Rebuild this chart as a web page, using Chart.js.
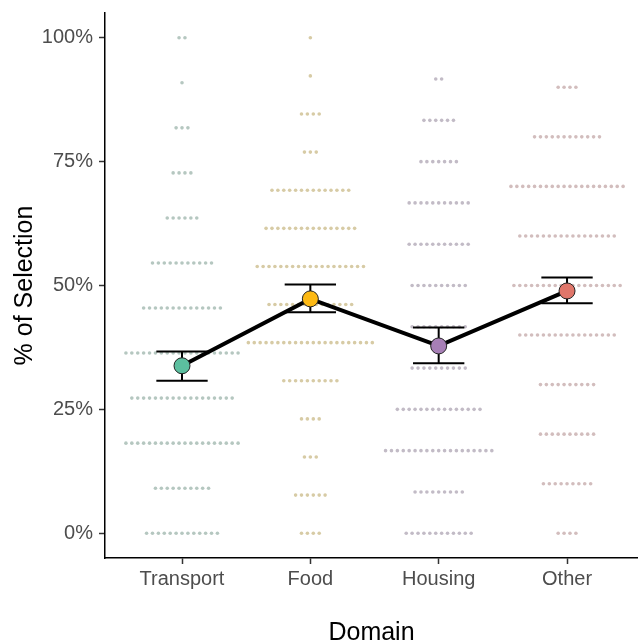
<!DOCTYPE html>
<html>
<head>
<meta charset="utf-8">
<script src="https://cdn.jsdelivr.net/npm/chart.js@4"></script>
<style>
  html, body { margin: 0; padding: 0; background: #fff; overflow: hidden; }
  #chart { display: block; }
</style>
</head>
<body>
<canvas id="chart" width="638" height="643"></canvas>
<script>
// categories and per-respondent counts at each response level (level k of N, k = 0..N)
const domains = ['Transport', 'Food', 'Housing', 'Other'];
const transportCounts = [13, 10, 20, 18, 20, 14, 11, 6, 4, 3, 1, 2];
const foodCounts      = [4, 6, 3, 4, 10, 22, 15, 19, 16, 14, 3, 4, 1, 1];
const housingCounts   = [12, 9, 19, 15, 10, 10, 10, 11, 11, 7, 6, 2, 0];
const otherCounts     = [4, 9, 10, 10, 17, 19, 17, 20, 12, 4, 0];

// means and error bar limits (% of selection)
const meanValues = [33.8, 47.3, 37.8, 48.9];
const lowerValues = [30.8, 44.6, 34.3, 46.4];
const upperValues = [36.7, 50.2, 41.5, 51.6];

const yTicks = [0, 25, 50, 75, 100];

const dotColors = ['#b5c7c0', '#d7cba5', '#c2bbc6', '#d2bdbd'];
const meanColors = ['#5cbf9f', '#fdb913', '#a77fb6', '#e0766a'];
const dotStep = 0.046;   // horizontal gap between stacked dots (category units)
const capHalf = 0.2;

function dotData(counts, cat) {
  const steps = counts.length - 1;
  const pts = [];
  counts.forEach((n, k) => {
    const v = k / steps * 100;
    for (let j = 0; j < n; j++) {
      pts.push({ x: cat + (j - (n - 1) / 2) * dotStep, y: v });
    }
  });
  return pts;
}

const allCounts = [transportCounts, foodCounts, housingCounts, otherCounts];
const dotSets = allCounts.map((counts, i) => ({
  type: 'scatter',
  data: dotData(counts, i),
  pointRadius: 1.8,
  pointBackgroundColor: dotColors[i],
  pointBorderWidth: 0,
  order: 5
}));

// error bars as one broken line
const errData = [];
domains.forEach((d, i) => {
  errData.push({ x: i - capHalf, y: upperValues[i] }, { x: i + capHalf, y: upperValues[i] }, { x: i, y: null });
  errData.push({ x: i, y: upperValues[i] }, { x: i, y: lowerValues[i] }, { x: i, y: null });
  errData.push({ x: i - capHalf, y: lowerValues[i] }, { x: i + capHalf, y: lowerValues[i] }, { x: i, y: null });
});

const meanData = meanValues.map((v, i) => ({ x: i, y: v }));

new Chart(document.getElementById('chart'), {
  type: 'scatter',
  data: {
    datasets: [
      ...dotSets,
      {
        type: 'line',
        data: meanData,
        borderColor: '#000',
        borderWidth: 4,
        pointRadius: 0,
        fill: false,
        order: 3
      },
      {
        type: 'line',
        data: errData,
        borderColor: '#000',
        borderWidth: 2,
        pointRadius: 0,
        spanGaps: false,
        fill: false,
        order: 2
      },
      {
        type: 'scatter',
        data: meanData,
        pointRadius: 8,
        pointBackgroundColor: meanColors,
        pointBorderColor: '#222',
        pointBorderWidth: 1,
        order: 0
      }
    ]
  },
  options: {
    responsive: false,
    animation: false,
    layout: { autoPadding: false, padding: { top: 13, right: 0, left: 0, bottom: 0 } },
    plugins: { legend: { display: false }, tooltip: { enabled: false } },
    scales: {
      x: {
        type: 'linear',
        min: -0.6,
        max: 3.553,
        afterFit: s => { s.height = 85; s.paddingLeft = 0; s.paddingRight = 0; },
        afterBuildTicks: s => { s.ticks = domains.map((d, i) => ({ value: i })); },
        grid: { drawOnChartArea: false, tickLength: 6, tickColor: '#333', tickWidth: 1.5 },
        border: { color: '#000', width: 1.5 },
        ticks: {
          padding: 3,
          color: '#4d4d4d',
          font: { family: 'Liberation Sans', size: 20 },
          callback: v => domains[v]
        },
        title: {
          display: true,
          text: 'Domain',
          color: '#000',
          font: { family: 'Liberation Sans', size: 25, lineHeight: 1 },
          padding: { top: 0, bottom: -3 }
        }
      },
      y: {
        min: -5,
        max: 105,
        afterFit: s => { s.width = 105; s.paddingTop = 0; s.paddingBottom = 0; },
        afterBuildTicks: s => { s.ticks = yTicks.map(v => ({ value: v })); },
        grid: { drawOnChartArea: false, tickLength: 6, tickColor: '#333', tickWidth: 1.5 },
        border: { color: '#000', width: 1.5 },
        ticks: {
          padding: 6,
          color: '#4d4d4d',
          font: { family: 'Liberation Sans', size: 20 },
          callback: v => v + '%'
        },
        title: {
          display: true,
          text: '% of Selection',
          color: '#000',
          font: { family: 'Liberation Sans', size: 25, lineHeight: 1 },
          padding: { top: 13, bottom: 0 }
        }
      }
    }
  }
});
</script>
</body>
</html>
